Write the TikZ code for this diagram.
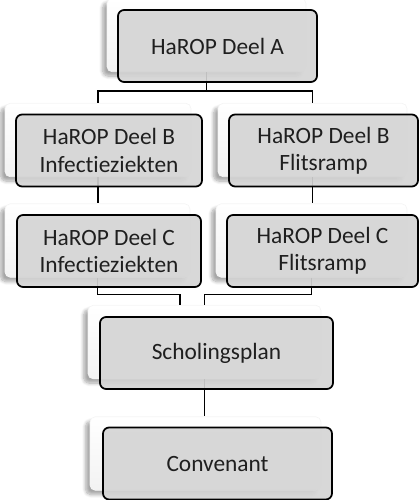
\documentclass[tikz,border=0pt]{standalone}
\usepackage{fontspec}
\setmainfont{Carlito}[Ligatures=NoCommon]
\usetikzlibrary{shadows.blur}

\tikzset{
  card/.style={rounded corners=3pt, top color=white, bottom color=black!5, draw=black!4,
    minimum height=1.47cm, inner sep=0pt,
    blur shadow={shadow xshift=-2.5pt, shadow yshift=-2.5pt, shadow blur steps=8, shadow opacity=35}},
  box/.style={rounded corners=3.5pt, draw=black, line width=1pt, fill=black!17,
    fill opacity=0.9, text opacity=1, minimum height=1.44cm, align=center,
    font=\fontsize{13.3}{15.4}\selectfont, text=black!88},
  link/.style={draw=black, line width=0.85pt}
}

\begin{document}
\begin{tikzpicture}
                    \useasboundingbox (0,0) rectangle (8.38,-10);

                    % back cards
                    \node[card, minimum width=3.98cm] (a) at (4.13,-0.70) {};
                    \node[card, minimum width=3.72cm] (b1) at (1.96,-2.80) {};
                    \node[card, minimum width=3.78cm] (b2) at (6.25,-2.80) {};
                    \node[card, minimum width=3.70cm] (c1) at (1.95,-4.81) {};
                    \node[card, minimum width=3.82cm] (c2) at (6.23,-4.81) {};
                    \node[card, minimum width=4.66cm] (s) at (4.09,-6.84) {};
                    \node[card, minimum width=4.62cm] (k) at (4.11,-9.07) {};

                    % connectors
                    \draw[link] (a.south) -- ++(0,-0.38) coordinate (ab);
                    \draw[link] (ab) -| (b1.north);
                    \draw[link] (ab) -| (b2.north);
                    \draw[link] (b1.south) -- (b1.south |- c1.north);
                    \draw[link] (b2.south) -- (b2.south |- c2.north);
                    \draw[link] (c1.south) -- ++(0,-0.34) -| ([xshift=-0.49cm]s.north);
                    \draw[link] (c2.south) -- ++(0,-0.34) -| (s.north);
                    \draw[link] (s.south) -- (s.south |- k.north);

                    % front boxes
                    \node[box, minimum width=3.98cm] (a box) at (4.35,-0.92) {HaROP Deel A};
                    \node[box, minimum width=3.72cm] (b1 box) at (2.18,-3.01) {HaROP Deel B\\Infectieziekten};
                    \node[box, minimum width=3.78cm] (b2 box) at (6.47,-3.01) {HaROP Deel B\\Flitsramp};
                    \node[box, minimum width=3.68cm] (c1 box) at (2.18,-5.02) {HaROP Deel C\\Infectieziekten};
                    \node[box, minimum width=3.82cm] (c2 box) at (6.45,-5.02) {HaROP Deel C\\Flitsramp};
                    \node[box, minimum width=4.66cm] (s box) at (4.33,-7.06) {Scholingsplan};
                    \node[box, minimum width=4.58cm] (k box) at (4.35,-9.27) {Convenant};

                  \end{tikzpicture}
\end{document}
